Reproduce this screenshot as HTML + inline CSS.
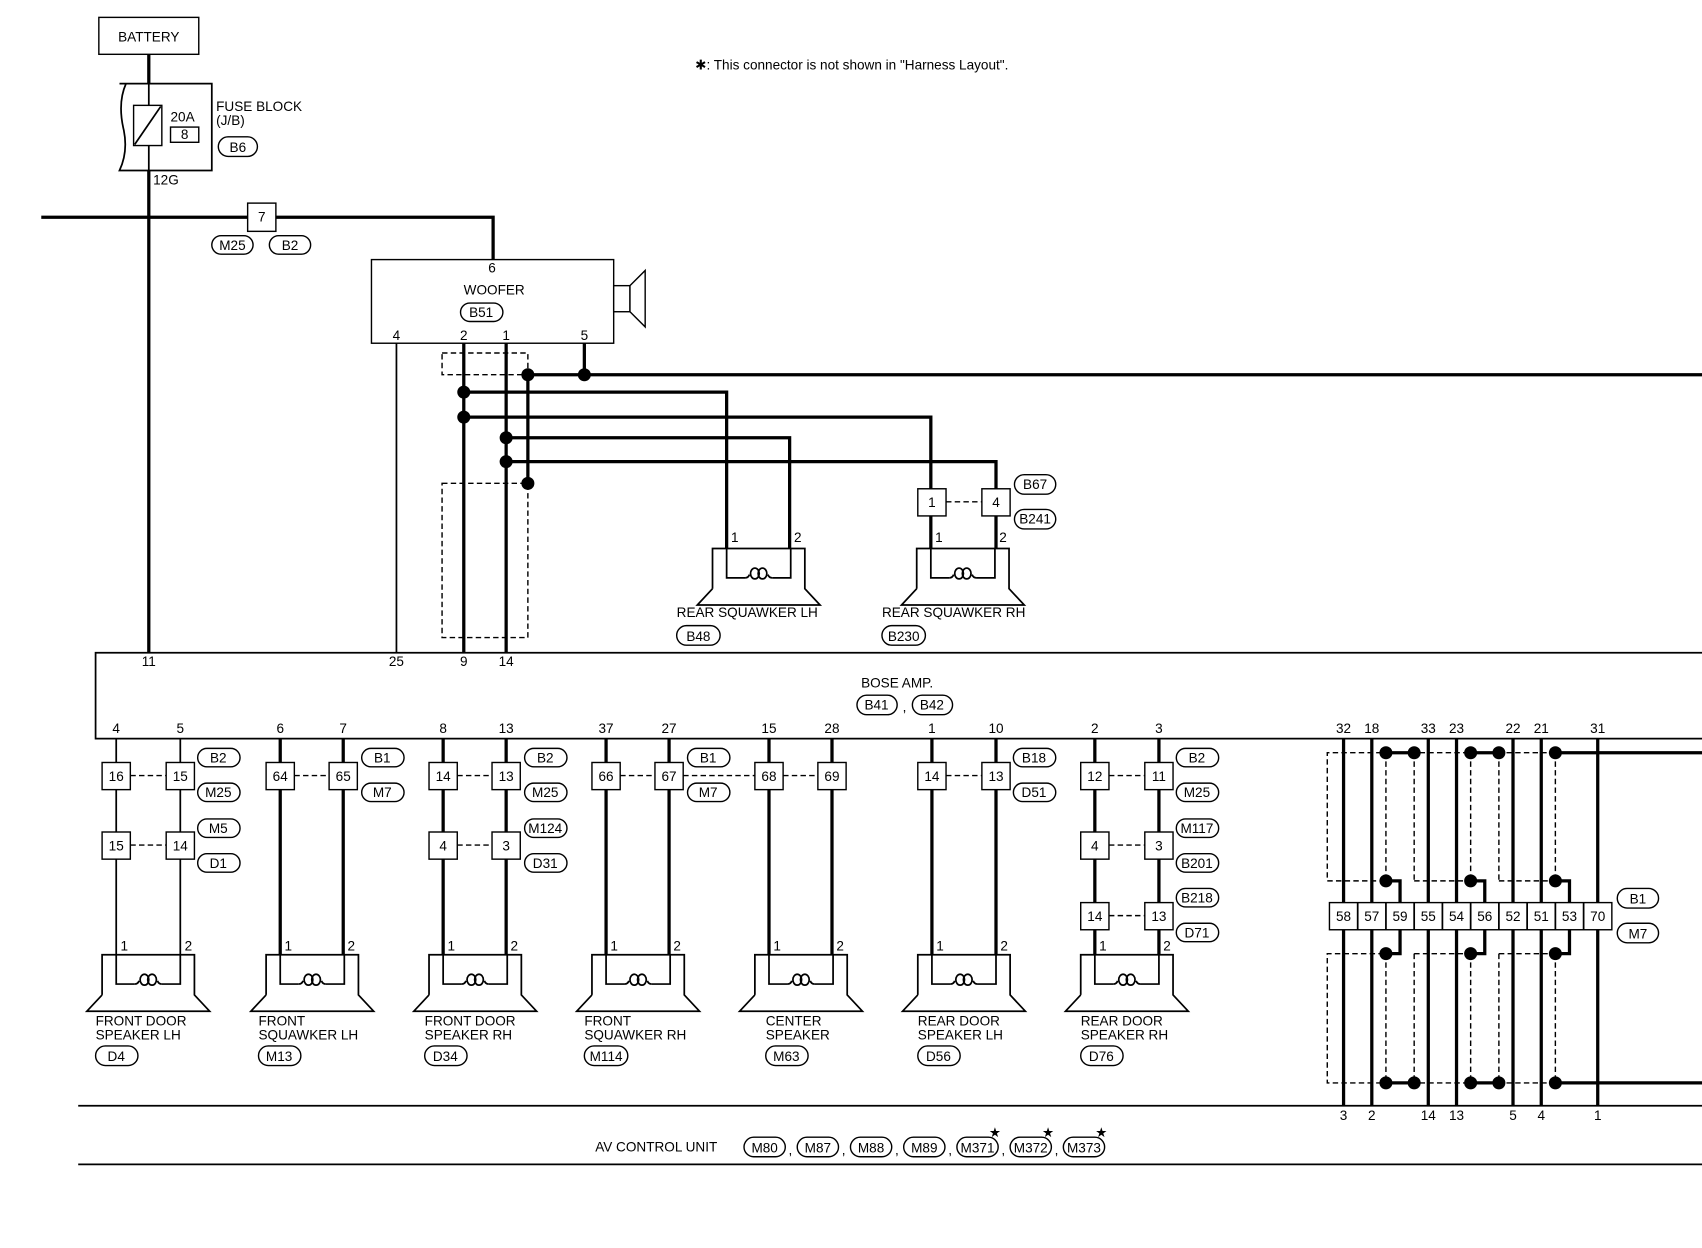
<!DOCTYPE html>
<html><head><meta charset="utf-8"><style>
html,body{margin:0;padding:0;background:#fff;}
svg{display:block;}
text{font-family:"Liberation Sans",sans-serif;font-size:12.5px;fill:#000;}
.w{stroke:#000;stroke-width:3;fill:none;}
.t{stroke:#000;stroke-width:1.6;fill:none;}
.d{stroke:#000;stroke-width:1.3;fill:none;stroke-dasharray:5,3;}
.b{fill:#fff;stroke:#000;stroke-width:1.3;}
.o{fill:#fff;stroke:#000;stroke-width:1.3;}
.c{text-anchor:middle;}
</style></head><body>
<svg width="1702" height="1248" viewBox="0 0 1567 1149" preserveAspectRatio="none" xmlns="http://www.w3.org/2000/svg">
<defs>
<g id="spk">
<path class="t" d="M-13,37 L-13,0 L72,0 L72,37 L86,52 L-27,52 L-13,37"/>
<path class="t" d="M0,0 L0,27 L17,27 M42,27 L59,27 L59,0"/>
<path class="t" d="M17,27 Q20,27 21,24 M38,24 Q39,27 42,27"/>
<ellipse cx="26" cy="23" rx="4" ry="5" class="t"/>
<ellipse cx="33" cy="23" rx="4" ry="5" class="t"/>
</g>
</defs>

<!-- note -->
<text x="640" y="64">✱: This connector is not shown in "Harness Layout".</text>

<!-- battery -->
<rect x="91" y="16" width="92" height="34" class="b" stroke-width="2"/>
<text x="137" y="38" class="c">BATTERY</text>
<line x1="137" y1="50" x2="137" y2="77" class="w"/>
<!-- fuse block -->
<path class="t" d="M110,77 L195,77 L195,157 L110,157 Q118,140 114,120 Q108,95 116,77"/>
<line x1="137" y1="77" x2="137" y2="157" class="t"/>
<rect x="123" y="97" width="26" height="37" class="b" stroke-width="1.6"/>
<line x1="124" y1="133" x2="148" y2="98" class="t"/>
<text x="157" y="112">20A</text>
<rect x="157" y="117" width="26" height="14" class="b"/>
<text x="170" y="128" class="c">8</text>
<text x="199" y="102">FUSE BLOCK</text>
<text x="199" y="115">(J/B)</text>
<rect x="201" y="126" width="36" height="18" rx="9" class="o"/>
<text x="219" y="140" class="c">B6</text>
<text x="141" y="170">12G</text>
<line x1="137" y1="157" x2="137" y2="601" class="w"/>

<!-- top horizontal -->
<polyline points="38,200 454,200 454,239" class="w"/>
<rect x="228" y="187" width="26" height="26" class="b"/>
<text x="241" y="204" class="c">7</text>
<rect x="195" y="217" width="38" height="17" rx="8.5" class="o"/>
<text x="214" y="230" class="c">M25</text>
<rect x="248" y="217" width="38" height="17" rx="8.5" class="o"/>
<text x="267" y="230" class="c">B2</text>

<!-- woofer -->
<rect x="342" y="239" width="223" height="77" class="b" stroke-width="1.6"/>
<text x="453" y="251" class="c">6</text>
<text x="455" y="271" class="c">WOOFER</text>
<rect x="424" y="279" width="39" height="17" rx="8.5" class="o"/>
<text x="443" y="292" class="c">B51</text>
<text x="365" y="313" class="c">4</text>
<text x="427" y="313" class="c">2</text>
<text x="466" y="313" class="c">1</text>
<text x="538" y="313" class="c">5</text>
<rect x="565" y="263" width="15" height="24" class="b"/>
<path d="M580,263 L594,249 L594,301 L580,287 Z" class="b"/>

<!-- woofer wiring -->
<line x1="365" y1="316" x2="365" y2="601" class="t"/>
<line x1="427" y1="316" x2="427" y2="601" class="w"/>
<line x1="466" y1="316" x2="466" y2="601" class="w"/>
<line x1="538" y1="316" x2="538" y2="345" class="w"/>
<line x1="486" y1="345" x2="1567" y2="345" class="w"/>
<line x1="486" y1="345" x2="486" y2="445" class="w"/>
<rect x="407" y="325" width="79" height="20" class="d"/>
<rect x="407" y="445" width="79" height="142" class="d"/>
<polyline points="427,361 669,361 669,505" class="w"/>
<polyline points="427,384 857,384 857,505" class="w"/>
<polyline points="466,403 727,403 727,505" class="w"/>
<polyline points="466,425 917,425 917,505" class="w"/>
<g fill="#000">
<circle cx="538" cy="345" r="6"/><circle cx="486" cy="345" r="6"/>
<circle cx="427" cy="361" r="6"/><circle cx="427" cy="384" r="6"/>
<circle cx="466" cy="403" r="6"/><circle cx="466" cy="425" r="6"/>
<circle cx="486" cy="445" r="6"/>
</g>
<!-- rear squawkers -->
<use href="#spk" x="669" y="505" transform="translate(0,0)"/>
<text x="673" y="499">1</text><text x="731" y="499">2</text>
<text x="623" y="568">REAR SQUAWKER LH</text>
<rect x="623" y="576" width="40" height="18" rx="9" class="o"/>
<text x="643" y="590" class="c">B48</text>
<rect x="845" y="450" width="26" height="25" class="b"/>
<text x="858" y="467" class="c">1</text>
<rect x="904" y="450" width="26" height="25" class="b"/>
<text x="917" y="467" class="c">4</text>
<line x1="871" y1="462" x2="904" y2="462" class="d"/>
<rect x="934" y="437" width="38" height="18" rx="9" class="o"/>
<text x="953" y="450" class="c">B67</text>
<rect x="934" y="469" width="38" height="18" rx="9" class="o"/>
<text x="953" y="482" class="c">B241</text>
<use href="#spk" x="857" y="505" transform="scale(1,1)" />
<text x="861" y="499">1</text><text x="920" y="499">2</text>
<text x="812" y="568">REAR SQUAWKER RH</text>
<rect x="812" y="576" width="40" height="18" rx="9" class="o"/>
<text x="832" y="590" class="c">B230</text>

<!-- bose amp -->
<path d="M1567,601 L88,601 L88,680 L1567,680" class="t"/>
<text x="137" y="613" class="c">11</text>
<text x="365" y="613" class="c">25</text>
<text x="427" y="613" class="c">9</text>
<text x="466" y="613" class="c">14</text>
<text x="826" y="633" class="c">BOSE AMP.</text>
<rect x="789" y="640" width="37" height="18" rx="9" class="o"/>
<text x="807" y="653" class="c">B41</text>
<text x="831" y="655">,</text>
<rect x="840" y="640" width="37" height="18" rx="9" class="o"/>
<text x="858" y="653" class="c">B42</text>
<g class="c">
<text x="107" y="675" class="c">4</text><text x="166" y="675" class="c">5</text>
<text x="258" y="675" class="c">6</text><text x="316" y="675" class="c">7</text>
<text x="408" y="675" class="c">8</text><text x="466" y="675" class="c">13</text>
<text x="558" y="675" class="c">37</text><text x="616" y="675" class="c">27</text>
<text x="708" y="675" class="c">15</text><text x="766" y="675" class="c">28</text>
<text x="858" y="675" class="c">1</text><text x="917" y="675" class="c">10</text>
<text x="1008" y="675" class="c">2</text><text x="1067" y="675" class="c">3</text>
<text x="1237" y="675" class="c">32</text><text x="1263" y="675" class="c">18</text>
<text x="1315" y="675" class="c">33</text><text x="1341" y="675" class="c">23</text>
<text x="1393" y="675" class="c">22</text><text x="1419" y="675" class="c">21</text>
<text x="1471" y="675" class="c">31</text>
</g>

<!-- speaker wires -->
<line x1="107" y1="680" x2="107" y2="879" class="t" stroke-width="2"/>
<line x1="166" y1="680" x2="166" y2="879" class="t" stroke-width="2"/>
<line x1="258" y1="680" x2="258" y2="879" class="w" stroke-width="2.5"/>
<line x1="316" y1="680" x2="316" y2="879" class="w"/>
<line x1="408" y1="680" x2="408" y2="879" class="w" stroke-width="2.5"/>
<line x1="466" y1="680" x2="466" y2="879" class="w"/>
<line x1="558" y1="680" x2="558" y2="879" class="w" stroke-width="2.5"/>
<line x1="616" y1="680" x2="616" y2="879" class="w"/>
<line x1="708" y1="680" x2="708" y2="879" class="w" stroke-width="2.5"/>
<line x1="766" y1="680" x2="766" y2="879" class="w"/>
<line x1="858" y1="680" x2="858" y2="879" class="w" stroke-width="2.5"/>
<line x1="917" y1="680" x2="917" y2="879" class="w"/>
<line x1="1008" y1="680" x2="1008" y2="879" class="w" stroke-width="2.5"/>
<line x1="1067" y1="680" x2="1067" y2="879" class="w"/>

<!-- dashed connector links -->
<line x1="120" y1="714" x2="153" y2="714" class="d"/>
<line x1="120" y1="778" x2="153" y2="778" class="d"/>
<line x1="271" y1="714" x2="303" y2="714" class="d"/>
<line x1="421" y1="714" x2="453" y2="714" class="d"/>
<line x1="421" y1="778" x2="453" y2="778" class="d"/>
<line x1="571" y1="714" x2="603" y2="714" class="d"/>
<line x1="629" y1="714" x2="695" y2="714" class="d"/>
<line x1="721" y1="714" x2="753" y2="714" class="d"/>
<line x1="871" y1="714" x2="904" y2="714" class="d"/>
<line x1="1021" y1="714" x2="1054" y2="714" class="d"/>
<line x1="1021" y1="778" x2="1054" y2="778" class="d"/>
<line x1="1021" y1="843" x2="1054" y2="843" class="d"/>

<!-- connector boxes -->
<g>
<rect x="94" y="702" width="26" height="25" class="b"/><text x="107" y="719" class="c">16</text>
<rect x="153" y="702" width="26" height="25" class="b"/><text x="166" y="719" class="c">15</text>
<rect x="94" y="766" width="26" height="25" class="b"/><text x="107" y="783" class="c">15</text>
<rect x="153" y="766" width="26" height="25" class="b"/><text x="166" y="783" class="c">14</text>
<rect x="245" y="702" width="26" height="25" class="b"/><text x="258" y="719" class="c">64</text>
<rect x="303" y="702" width="26" height="25" class="b"/><text x="316" y="719" class="c">65</text>
<rect x="395" y="702" width="26" height="25" class="b"/><text x="408" y="719" class="c">14</text>
<rect x="453" y="702" width="26" height="25" class="b"/><text x="466" y="719" class="c">13</text>
<rect x="395" y="766" width="26" height="25" class="b"/><text x="408" y="783" class="c">4</text>
<rect x="453" y="766" width="26" height="25" class="b"/><text x="466" y="783" class="c">3</text>
<rect x="545" y="702" width="26" height="25" class="b"/><text x="558" y="719" class="c">66</text>
<rect x="603" y="702" width="26" height="25" class="b"/><text x="616" y="719" class="c">67</text>
<rect x="695" y="702" width="26" height="25" class="b"/><text x="708" y="719" class="c">68</text>
<rect x="753" y="702" width="26" height="25" class="b"/><text x="766" y="719" class="c">69</text>
<rect x="845" y="702" width="26" height="25" class="b"/><text x="858" y="719" class="c">14</text>
<rect x="904" y="702" width="26" height="25" class="b"/><text x="917" y="719" class="c">13</text>
<rect x="995" y="702" width="26" height="25" class="b"/><text x="1008" y="719" class="c">12</text>
<rect x="1054" y="702" width="26" height="25" class="b"/><text x="1067" y="719" class="c">11</text>
<rect x="995" y="766" width="26" height="25" class="b"/><text x="1008" y="783" class="c">4</text>
<rect x="1054" y="766" width="26" height="25" class="b"/><text x="1067" y="783" class="c">3</text>
<rect x="995" y="831" width="26" height="25" class="b"/><text x="1008" y="848" class="c">14</text>
<rect x="1054" y="831" width="26" height="25" class="b"/><text x="1067" y="848" class="c">13</text>
</g>

<!-- ovals group side -->
<g>
<rect x="182" y="689" width="39" height="17" rx="8.5" class="o"/><text x="201" y="702" class="c">B2</text>
<rect x="182" y="721" width="39" height="17" rx="8.5" class="o"/><text x="201" y="734" class="c">M25</text>
<rect x="182" y="754" width="39" height="17" rx="8.5" class="o"/><text x="201" y="767" class="c">M5</text>
<rect x="182" y="786" width="39" height="17" rx="8.5" class="o"/><text x="201" y="799" class="c">D1</text>
<rect x="333" y="689" width="39" height="17" rx="8.5" class="o"/><text x="352" y="702" class="c">B1</text>
<rect x="333" y="721" width="39" height="17" rx="8.5" class="o"/><text x="352" y="734" class="c">M7</text>
<rect x="483" y="689" width="39" height="17" rx="8.5" class="o"/><text x="502" y="702" class="c">B2</text>
<rect x="483" y="721" width="39" height="17" rx="8.5" class="o"/><text x="502" y="734" class="c">M25</text>
<rect x="483" y="754" width="39" height="17" rx="8.5" class="o"/><text x="502" y="767" class="c">M124</text>
<rect x="483" y="786" width="39" height="17" rx="8.5" class="o"/><text x="502" y="799" class="c">D31</text>
<rect x="633" y="689" width="39" height="17" rx="8.5" class="o"/><text x="652" y="702" class="c">B1</text>
<rect x="633" y="721" width="39" height="17" rx="8.5" class="o"/><text x="652" y="734" class="c">M7</text>
<rect x="933" y="689" width="39" height="17" rx="8.5" class="o"/><text x="952" y="702" class="c">B18</text>
<rect x="933" y="721" width="39" height="17" rx="8.5" class="o"/><text x="952" y="734" class="c">D51</text>
<rect x="1083" y="689" width="39" height="17" rx="8.5" class="o"/><text x="1102" y="702" class="c">B2</text>
<rect x="1083" y="721" width="39" height="17" rx="8.5" class="o"/><text x="1102" y="734" class="c">M25</text>
<rect x="1083" y="754" width="39" height="17" rx="8.5" class="o"/><text x="1102" y="767" class="c">M117</text>
<rect x="1083" y="786" width="39" height="17" rx="8.5" class="o"/><text x="1102" y="799" class="c">B201</text>
<rect x="1083" y="818" width="39" height="17" rx="8.5" class="o"/><text x="1102" y="831" class="c">B218</text>
<rect x="1083" y="850" width="39" height="17" rx="8.5" class="o"/><text x="1102" y="863" class="c">D71</text>
</g>

<!-- speakers -->
<use href="#spk" x="107" y="879"/>
<use href="#spk" x="258" y="879"/>
<use href="#spk" x="408" y="879"/>
<use href="#spk" x="558" y="879"/>
<use href="#spk" x="708" y="879"/>
<use href="#spk" x="858" y="879"/>
<use href="#spk" x="1008" y="879"/>
<g>
<text x="111" y="875">1</text><text x="170" y="875">2</text>
<text x="262" y="875">1</text><text x="320" y="875">2</text>
<text x="412" y="875">1</text><text x="470" y="875">2</text>
<text x="562" y="875">1</text><text x="620" y="875">2</text>
<text x="712" y="875">1</text><text x="770" y="875">2</text>
<text x="862" y="875">1</text><text x="921" y="875">2</text>
<text x="1012" y="875">1</text><text x="1071" y="875">2</text>
</g>
<g>
<text x="88" y="944">FRONT DOOR</text><text x="88" y="957">SPEAKER LH</text>
<text x="238" y="944">FRONT</text><text x="238" y="957">SQUAWKER LH</text>
<text x="391" y="944">FRONT DOOR</text><text x="391" y="957">SPEAKER RH</text>
<text x="538" y="944">FRONT</text><text x="538" y="957">SQUAWKER RH</text>
<text x="705" y="944">CENTER</text><text x="705" y="957">SPEAKER</text>
<text x="845" y="944">REAR DOOR</text><text x="845" y="957">SPEAKER LH</text>
<text x="995" y="944">REAR DOOR</text><text x="995" y="957">SPEAKER RH</text>
<rect x="88" y="963" width="39" height="18" rx="9" class="o"/><text x="107" y="977" class="c">D4</text>
<rect x="238" y="963" width="39" height="18" rx="9" class="o"/><text x="257" y="977" class="c">M13</text>
<rect x="391" y="963" width="39" height="18" rx="9" class="o"/><text x="410" y="977" class="c">D34</text>
<rect x="538" y="963" width="40" height="18" rx="9" class="o"/><text x="558" y="977" class="c">M114</text>
<rect x="705" y="963" width="39" height="18" rx="9" class="o"/><text x="724" y="977" class="c">M63</text>
<rect x="845" y="963" width="39" height="18" rx="9" class="o"/><text x="864" y="977" class="c">D56</text>
<rect x="995" y="963" width="39" height="18" rx="9" class="o"/><text x="1014" y="977" class="c">D76</text>
</g>

<!-- right shielded block -->
<g>
<line x1="1237" y1="680" x2="1237" y2="1018" class="w"/>
<line x1="1263" y1="680" x2="1263" y2="1018" class="w"/>
<line x1="1315" y1="680" x2="1315" y2="1018" class="w"/>
<line x1="1341" y1="680" x2="1341" y2="1018" class="w"/>
<line x1="1393" y1="680" x2="1393" y2="1018" class="w"/>
<line x1="1419" y1="680" x2="1419" y2="1018" class="w"/>
<line x1="1471" y1="680" x2="1471" y2="1018" class="w"/>
<!-- dashed shields top -->
<path class="d" d="M1432,693 L1222,693 L1222,811 L1276,811 M1302,811 L1354,811 M1380,811 L1432,811"/>
<path class="d" d="M1276,693 V811 M1302,693 V811 M1354,693 V811 M1380,693 V811 M1432,693 V811"/>
<path class="d" d="M1432,997 L1222,997 L1222,878 L1276,878 M1302,878 L1354,878 M1380,878 L1432,878"/>
<path class="d" d="M1276,878 V997 M1302,878 V997 M1354,878 V997 M1380,878 V997 M1432,878 V997"/>
<line x1="1276" y1="693" x2="1302" y2="693" class="w"/>
<line x1="1354" y1="693" x2="1380" y2="693" class="w"/>
<line x1="1432" y1="693" x2="1567" y2="693" class="w"/>
<line x1="1276" y1="997" x2="1302" y2="997" class="w"/>
<line x1="1354" y1="997" x2="1380" y2="997" class="w"/>
<line x1="1432" y1="997" x2="1567" y2="997" class="w"/>
<polyline points="1276,811 1289,811 1289,831" class="w"/>
<polyline points="1354,811 1367,811 1367,831" class="w"/>
<polyline points="1432,811 1445,811 1445,831" class="w"/>
<polyline points="1276,878 1289,878 1289,856" class="w"/>
<polyline points="1354,878 1367,878 1367,856" class="w"/>
<polyline points="1432,878 1445,878 1445,856" class="w"/>
<g fill="#000">
<circle cx="1276" cy="693" r="6"/><circle cx="1302" cy="693" r="6"/><circle cx="1354" cy="693" r="6"/><circle cx="1380" cy="693" r="6"/><circle cx="1432" cy="693" r="6"/>
<circle cx="1276" cy="811" r="6"/><circle cx="1354" cy="811" r="6"/><circle cx="1432" cy="811" r="6"/>
<circle cx="1276" cy="878" r="6"/><circle cx="1354" cy="878" r="6"/><circle cx="1432" cy="878" r="6"/>
<circle cx="1276" cy="997" r="6"/><circle cx="1302" cy="997" r="6"/><circle cx="1354" cy="997" r="6"/><circle cx="1380" cy="997" r="6"/><circle cx="1432" cy="997" r="6"/>
</g>
<rect x="1224" y="831" width="260" height="25" class="b" stroke-width="1.6"/>
<path class="t" stroke-width="1.3" d="M1250,831V856 M1276,831V856 M1302,831V856 M1328,831V856 M1354,831V856 M1380,831V856 M1406,831V856 M1432,831V856 M1458,831V856"/>
<text x="1237" y="848" class="c">58</text><text x="1263" y="848" class="c">57</text>
<text x="1289" y="848" class="c">59</text><text x="1315" y="848" class="c">55</text>
<text x="1341" y="848" class="c">54</text><text x="1367" y="848" class="c">56</text>
<text x="1393" y="848" class="c">52</text><text x="1419" y="848" class="c">51</text>
<text x="1445" y="848" class="c">53</text><text x="1471" y="848" class="c">70</text>
<rect x="1489" y="818" width="38" height="18" rx="9" class="o"/><text x="1508" y="832" class="c">B1</text>
<rect x="1489" y="850" width="38" height="18" rx="9" class="o"/><text x="1508" y="864" class="c">M7</text>
</g>

<!-- AV control unit -->
<line x1="72" y1="1018" x2="1567" y2="1018" class="t"/>
<line x1="72" y1="1072" x2="1567" y2="1072" class="t" stroke-width="2"/>
<g>
<text x="1237" y="1031" class="c">3</text><text x="1263" y="1031" class="c">2</text>
<text x="1315" y="1031" class="c">14</text><text x="1341" y="1031" class="c">13</text>
<text x="1393" y="1031" class="c">5</text><text x="1419" y="1031" class="c">4</text>
<text x="1471" y="1031" class="c">1</text>
</g>
<text x="548" y="1060">AV CONTROL UNIT</text>
<g>
<rect x="685" y="1047" width="38" height="18" rx="9" class="o"/><text x="704" y="1061" class="c">M80</text>
<text x="726" y="1063">,</text>
<rect x="734" y="1047" width="38" height="18" rx="9" class="o"/><text x="753" y="1061" class="c">M87</text>
<text x="775" y="1063">,</text>
<rect x="783" y="1047" width="38" height="18" rx="9" class="o"/><text x="802" y="1061" class="c">M88</text>
<text x="824" y="1063">,</text>
<rect x="832" y="1047" width="38" height="18" rx="9" class="o"/><text x="851" y="1061" class="c">M89</text>
<text x="873" y="1063">,</text>
<rect x="881" y="1047" width="38" height="18" rx="9" class="o"/><text x="900" y="1061" class="c">M371</text>
<text x="922" y="1063">,</text>
<rect x="930" y="1047" width="38" height="18" rx="9" class="o"/><text x="949" y="1061" class="c">M372</text>
<text x="971" y="1063">,</text>
<rect x="979" y="1047" width="38" height="18" rx="9" class="o"/><text x="998" y="1061" class="c">M373</text>
<text x="916" y="1047" class="c" font-size="14">★</text>
<text x="965" y="1047" class="c" font-size="14">★</text>
<text x="1014" y="1047" class="c" font-size="14">★</text>
</g>
</svg>
</body></html>
